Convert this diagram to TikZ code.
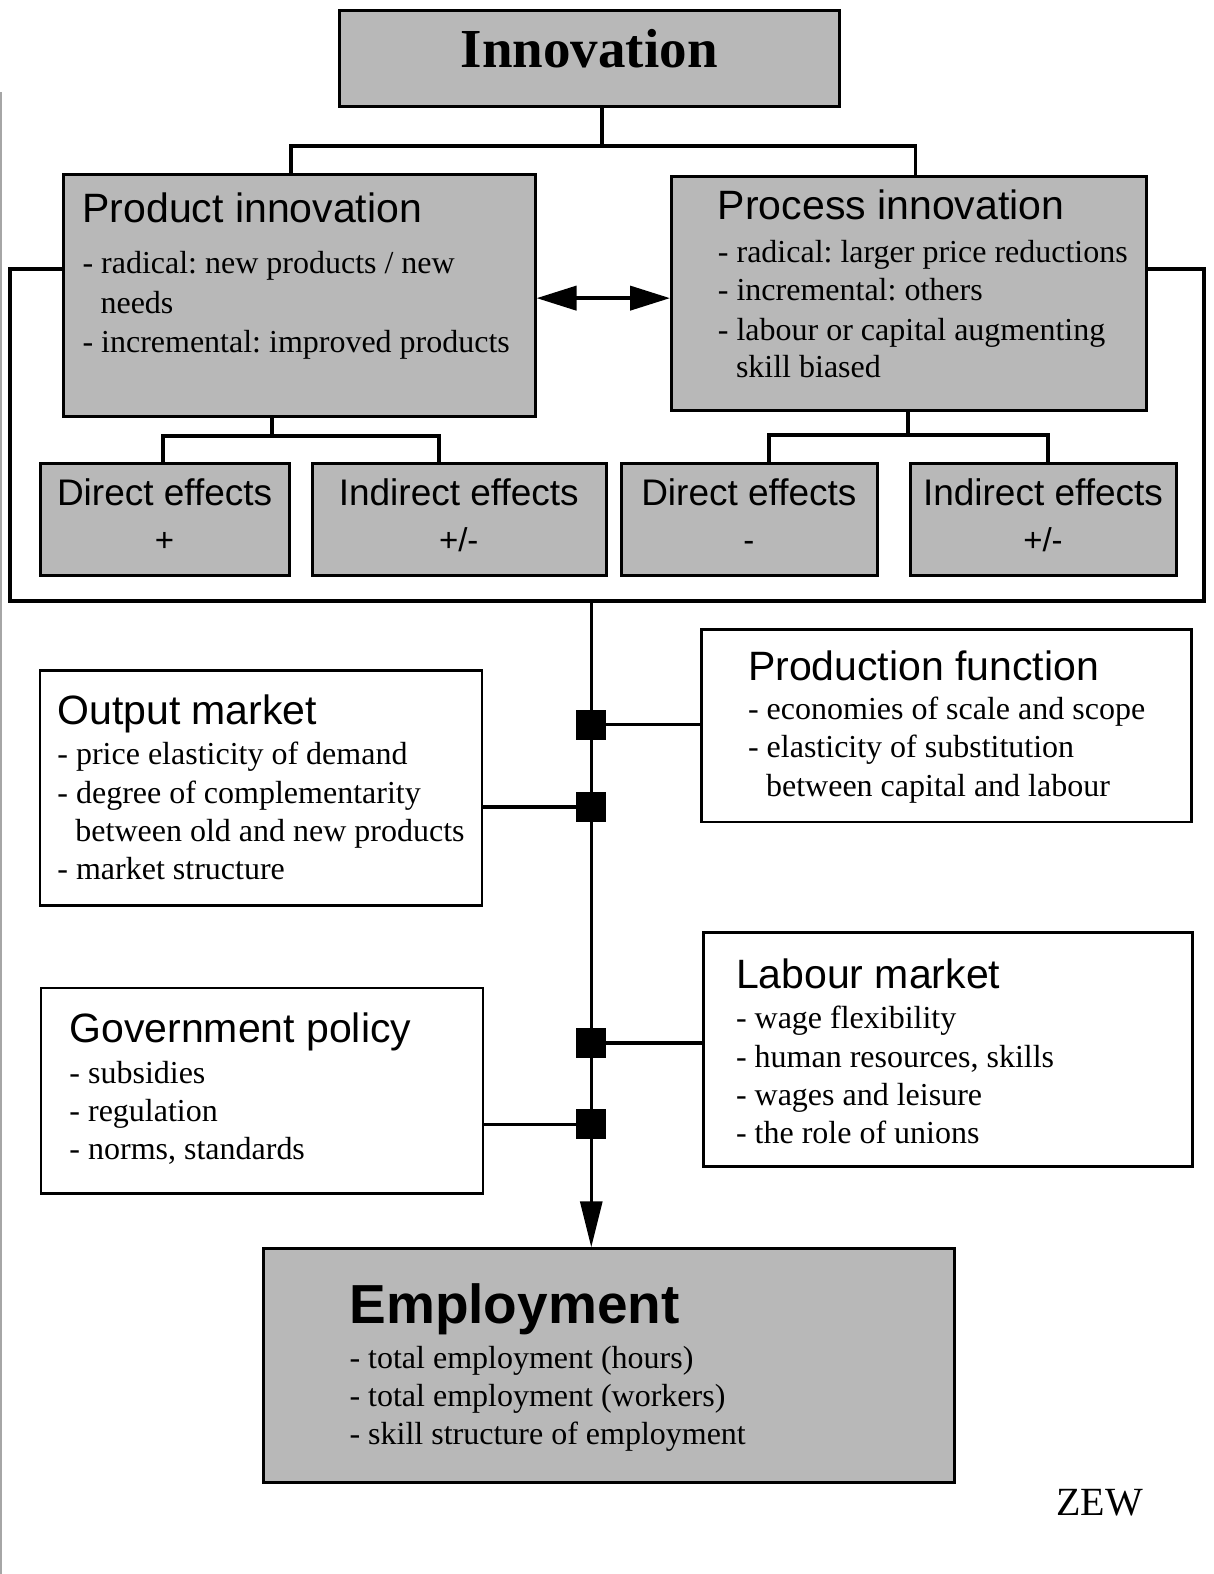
\documentclass[tikz,border=0pt]{standalone}
\usepackage{fontspec}
\setmainfont{Liberation Serif}
\setsansfont{Liberation Sans}
\usetikzlibrary{arrows.meta,fit}
\definecolor{boxgray}{HTML}{B8B8B8}
\frenchspacing
\begin{document}
\frenchspacing
\begin{tikzpicture}[x=1.004pt,y=-1.004pt,
  gbox/.style={draw, line width=3pt, fill=boxgray, inner sep=0pt},
  wbox/.style={draw, line width=2.5pt, fill=white, inner sep=0pt},
  conn/.style={line width=4pt, line cap=rect},
  sq/.style={fill=black, minimum size=30pt, inner sep=0pt},
  ttl/.style={font=\sffamily\fontsize{41}{48}\selectfont, anchor=base west, inner sep=0pt},
  eff/.style={font=\sffamily\fontsize{37}{42}\selectfont, anchor=base, inner sep=0pt},
  sgn/.style={font=\sffamily\fontsize{33}{38}\selectfont, anchor=base, inner sep=0pt},
  txt/.style={font=\fontsize{32}{38}\selectfont, anchor=base west, inner sep=0pt}]
\useasboundingbox[fill=white] (0,0) rectangle (1209,1568);

% scan edge line
\draw[line width=1.2pt, gray!70] (1,92) -- (1,1568);

% boxes
\node[gbox, fit={(338,10) (836,106)}] (inn) {};
\node[gbox, fit={(63,174) (533,415)}] (prod) {};
\node[gbox, fit={(669,176) (1142,409)}] (proc) {};
\node[gbox, fit={(40,462) (288,573)}] (de1) {};
\node[gbox, fit={(311,462) (604,573)}] (ie1) {};
\node[gbox, fit={(619,462) (874,573)}] (de2) {};
\node[gbox, fit={(907,462) (1172,573)}] (ie2) {};
\node[wbox, fit={(699,627) (1187,819)}] (pf) {};
\node[wbox, fit={(40,668) (480,902)}] (om) {};
\node[wbox, fit={(701,929) (1188,1162)}] (lm) {};
\node[wbox, fit={(41,984) (481,1189)}] (gp) {};
\node[gbox, fit={(262,1244) (951,1477)}] (emp) {};

% junction coordinates
\coordinate (jt) at (600,145);
\coordinate (jl) at (290,145);
\coordinate (jr) at (912,145);
\coordinate (pj) at (271,434);
\coordinate (pjl) at (162,434);
\coordinate (pjr) at (437,434);
\coordinate (qj) at (905,433);
\coordinate (qjl) at (766,433);
\coordinate (qjr) at (1044,433);
\coordinate (lA) at (10,268);
\coordinate (lB) at (10,599);
\coordinate (rB) at (1199,599);
\coordinate (rA) at (1199,268);
\coordinate (mtop) at (589,599);
\coordinate (da) at (600,297);

% tree connectors
\draw[conn] (inn.south -| jt) -- (jt);
\draw[conn] (prod.north -| jl) -- (jl) -- (jr) -- (proc.north -| jr);
\draw[conn] (prod.south -| pj) -- (pj);
\draw[conn] (de1.north -| pjl) -- (pjl) -- (pjr) -- (ie1.north -| pjr);
\draw[conn] (proc.south -| qj) -- (qj);
\draw[conn] (de2.north -| qjl) -- (qjl) -- (qjr) -- (ie2.north -| qjr);

% loop around
\draw[line width=4pt] (prod.west |- lA) -- (lA) -- (lB) -- (rB) -- (rA) -- (proc.east |- rA);

% double arrow
\draw[line width=4pt, {Triangle[length=40pt,width=24pt]}-{Triangle[length=40pt,width=24pt]}] (prod.east |- da) -- (proc.west |- da);

% main line
\draw[line width=3pt, -{Triangle[length=46pt,width=22pt]}] (mtop) -- (emp.north -| mtop);

% squares
\node[sq] (s1) at (589,722) {};
\node[sq] (s2) at (589,804) {};
\node[sq] (s3) at (589,1039) {};
\node[sq] (s4) at (589,1120) {};
\draw[line width=3pt] (pf.west |- s1) -- (s1);
\draw[line width=3.5pt] (om.east |- s2) -- (s2);
\draw[line width=3.5pt] (lm.west |- s3) -- (s3);
\draw[line width=3.5pt] (gp.east |- s4) -- (s4);

% texts
\node[font=\bfseries\fontsize{55}{60}\selectfont, anchor=base, inner sep=0pt] (tinn) at (587,67) {Innovation};

\node[ttl] (tp0) at (82,222) {Product innovation};
\node[txt] (tp1) at (82,272) {- radical: new products / new};
\node[txt] (tp2) at (100,312) {needs};
\node[txt] (tp3) at (82,351) {- incremental: improved products};

\node[ttl] (tq0) at (715,219) {Process innovation};
\node[txt] (tq1) at (715,261) {- radical: larger price reductions};
\node[txt] (tq2) at (715,299) {- incremental: others};
\node[txt] (tq3) at (715,339) {- labour or capital augmenting};
\node[txt] (tq4) at (733,376) {skill biased};

\node[eff] (te1) at (164,504) {Direct effects};
\node[sgn] (ts1) at (164,549) {+};
\node[eff] (te2) at (457,504) {Indirect effects};
\node[sgn] (ts2) at (457,549) {+/-};
\node[eff] (te3) at (746,504) {Direct effects};
\node[sgn] (ts3) at (746,549) {-};
\node[eff] (te4) at (1039,504) {Indirect effects};
\node[sgn] (ts4) at (1039,549) {+/-};

\node[ttl] (tf0) at (745,678) {Production function};
\node[txt] (tf1) at (745,717) {- economies of scale and scope};
\node[txt] (tf2) at (745,755) {- elasticity of substitution};
\node[txt] (tf3) at (763,793) {between capital and labour};

\node[ttl] (to0) at (57,722) {Output market};
\node[txt] (to1) at (57,762) {- price elasticity of demand};
\node[txt] (to2) at (57,800) {- degree of complementarity};
\node[txt] (to3) at (75,838) {between old and new products};
\node[txt] (to4) at (57,876) {- market structure};

\node[ttl] (tl0) at (733,985) {Labour market};
\node[txt] (tl1) at (733,1025) {- wage flexibility};
\node[txt] (tl2) at (733,1063) {- human resources, skills};
\node[txt] (tl3) at (733,1101) {- wages and leisure};
\node[txt] (tl4) at (733,1139) {- the role of unions};

\node[ttl] (tg0) at (69,1039) {Government policy};
\node[txt] (tg1) at (69,1079) {- subsidies};
\node[txt] (tg2) at (69,1117) {- regulation};
\node[txt] (tg3) at (69,1155) {- norms, standards};

\node[font=\sffamily\bfseries\fontsize{55}{60}\selectfont, anchor=base west, inner sep=0pt] (tem0) at (348,1318) {Employment};
\node[txt] (tem1) at (348,1363) {- total employment (hours)};
\node[txt] (tem2) at (348,1401) {- total employment (workers)};
\node[txt] (tem3) at (348,1439) {- skill structure of employment};

\node[font=\fontsize{40}{46}\selectfont, anchor=base west, inner sep=0pt] (zew) at (1052,1510) {ZEW};
\end{tikzpicture}
\end{document}
